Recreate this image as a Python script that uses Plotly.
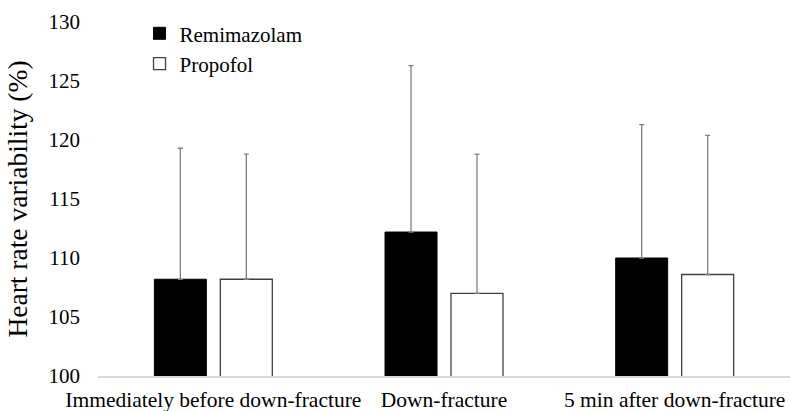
import plotly.graph_objects as go

categories = ["Immediately before down-fracture", "Down-fracture", "5 min after down-fracture"]
remimazolam = [108.2, 112.2, 110.0]
remimazolam_err = [11.1, 14.1, 11.3]
propofol = [108.2, 107.0, 108.6]
propofol_err = [10.6, 11.8, 11.8]
y_ticks = [100, 105, 110, 115, 120, 125, 130]

FONT = "Liberation Serif"

fig = go.Figure()
fig.add_trace(go.Bar(
    name="Remimazolam", x=categories, y=remimazolam,
    marker=dict(color="black", line=dict(color="black", width=1)),
    error_y=dict(type="data", array=remimazolam_err, symmetric=False,
                 arrayminus=[0, 0, 0], color="#7f7f7f", thickness=1.3, width=2.5),
))
fig.add_trace(go.Bar(
    name="Propofol", x=categories, y=propofol,
    marker=dict(color="white", line=dict(color="#404040", width=1.3)),
    error_y=dict(type="data", array=propofol_err, symmetric=False,
                 arrayminus=[0, 0, 0], color="#7f7f7f", thickness=1.3, width=2.5),
))

fig.update_layout(
    template="none",
    width=790, height=411,
    margin=dict(l=98, r=0, t=22, b=35),
    paper_bgcolor="white", plot_bgcolor="white",
    barmode="group", bargap=0.428, bargroupgap=0.212,
    font=dict(family=FONT, size=21, color="black"),
    showlegend=True,
    legend=dict(x=0.06, y=1.025, xanchor="left", yanchor="top",
                bgcolor="rgba(0,0,0,0)", font=dict(family=FONT, size=21, color="black"),
                itemwidth=30, tracegroupgap=0),
)
fig.update_xaxes(showline=True, linecolor="#d9d9d9", linewidth=1.5,
                 ticks="", showgrid=False, ticklabelstandoff=3,
                 tickfont=dict(family=FONT, size=21.5, color="black"))
fig.update_yaxes(range=[100, 130], tickvals=y_ticks, showgrid=False,
                 zeroline=False, showline=False, ticks="",
                 ticklabelstandoff=17,
                 tickfont=dict(family=FONT, size=21, color="black"),
                 title=dict(text="Heart rate variability (%)",
                            font=dict(family=FONT, size=27.5, color="black"), standoff=12))

fig.write_html("out.html", config={"displayModeBar": False},
               post_script="document.body.style.margin='0';")
